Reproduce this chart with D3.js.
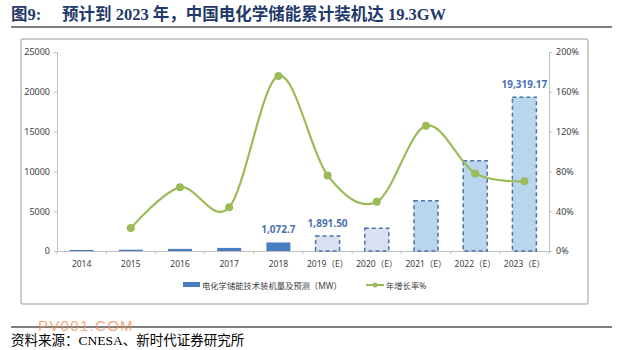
<!DOCTYPE html>
<html lang="zh">
<head>
  <meta charset="UTF-8">
  <title>预计到2023年，中国电化学储能累计装机达19.3GW</title>
  <script src="https://d3js.org/d3.v7.min.js"></script>
  <style>
    body { margin: 0; background: #fff; }
    text { font-family: "Noto Sans", "Noto Sans CJK SC", sans-serif; }
  </style>
</head>
<body>
  <div id="chart"></div>

  <script>
    // 数据
    const years = ["2014", "2015", "2016", "2017", "2018", "2019（E）", "2020（E）", "2021（E）", "2022（E）", "2023（E）"];
    const capacity = [130, 160, 265, 389, 1072.7, 1891.5, 2850, 6320, 11345, 19319.17];
    const growth = [null, 23, 64, 44, 176, 76, 49.5, 126, 78, 70];
    const leftTicks = [0, 5000, 10000, 15000, 20000, 25000];
    const rightTicks = [0, 40, 80, 120, 160, 200];
    const barLabels = { 4: "1,072.7", 5: "1,891.50", 9: "19,319.17" };

    const W = 621, H = 350;
    const svg = d3.select("#chart").append("svg")
      .attr("width", W).attr("height", H);

    // 标题
    const title = svg.append("text")
      .attr("x", 11).attr("y", 20)
      .attr("fill", "#1f3a6a")
      .attr("font-weight", "bold")
      .style("font-family", "'Liberation Serif', 'Noto Sans CJK SC', serif")
      .attr("font-size", 16.5);
    title.append("tspan").text("图9:");
    title.append("tspan").attr("x", 62).text("预计到 2023 年，中国电化学储能累计装机达 19.3GW");

    svg.append("line").attr("x1", 11).attr("x2", 612).attr("y1", 27).attr("y2", 27)
      .attr("stroke", "#000").attr("stroke-width", 1);

    // 图框
    svg.append("rect").attr("x", 21).attr("y", 39).attr("width", 567).attr("height", 265)
      .attr("fill", "#fff").attr("stroke", "#bdbdbd").attr("stroke-width", 1.5).attr("rx", 2);

    const x = d3.scaleBand().domain(years).range([57, 549]);
    const yL = d3.scaleLinear().domain([0, 25000]).range([251, 52]);
    const yR = d3.scaleLinear().domain([0, 200]).range([251, 52]);

    // 坐标轴
    const axisColor = "#bfbfbf";
    const gL = svg.append("g").attr("transform", "translate(57,0)")
      .call(d3.axisLeft(yL).tickValues(leftTicks).tickSize(3).tickPadding(4).tickFormat(d3.format("d")));
    const gR = svg.append("g").attr("transform", "translate(549,0)")
      .call(d3.axisRight(yR).tickValues(rightTicks).tickSize(3).tickPadding(4).tickFormat(d => d + "%"));
    const gX = svg.append("g").attr("transform", "translate(0,251)")
      .call(d3.axisBottom(x).tickSize(0).tickPadding(10));
    // x轴分隔刻度
    gX.selectAll(".sep").data(d3.range(years.length + 1)).enter().append("line")
      .attr("x1", i => 57 + i * x.step()).attr("x2", i => 57 + i * x.step())
      .attr("y1", 0).attr("y2", 3).attr("stroke", axisColor);

    [gL, gR, gX].forEach(g => {
      g.select(".domain").attr("stroke", axisColor);
      g.selectAll(".tick line").attr("stroke", axisColor);
      g.selectAll(".tick text").attr("fill", "#404040").attr("font-size", 9);
    });
    gX.selectAll(".tick text").attr("font-size", 8.5);

    // 柱子
    const bw = 24;
    svg.append("g").selectAll("rect").data(capacity).enter().append("rect")
      .attr("x", (d, i) => x(years[i]) + (x.bandwidth() - bw) / 2)
      .attr("y", d => yL(d))
      .attr("width", bw)
      .attr("height", d => yL(0) - yL(d))
      .attr("fill", (d, i) => i < 5 ? "#4a7dbf" : (i < 7 ? "#d8e0f1" : "#bad6ef"))
      .attr("stroke", (d, i) => i < 5 ? "none" : "#4d73a8")
      .attr("stroke-width", 1.5)
      .attr("stroke-dasharray", "4,3");

    // 数据标签
    svg.append("g").selectAll("text").data(Object.keys(barLabels)).enter().append("text")
      .attr("x", i => x(years[i]) + x.bandwidth() / 2)
      .attr("y", i => yL(capacity[i]) - 9)
      .attr("text-anchor", "middle")
      .attr("fill", "#4a72b0")
      .attr("font-weight", "bold")
      .attr("font-size", 10)
      .text(i => barLabels[i]);

    // 增长率折线
    const pts = growth.map((g, i) => ({ i, g })).filter(d => d.g !== null);
    const line = d3.line()
      .x(d => x(years[d.i]) + x.bandwidth() / 2)
      .y(d => yR(d.g))
      .curve(d3.curveCatmullRom.alpha(0));
    svg.append("path").attr("d", line(pts))
      .attr("fill", "none").attr("stroke", "#9bbb59").attr("stroke-width", 2.2);
    svg.append("g").selectAll("circle").data(pts).enter().append("circle")
      .attr("cx", d => x(years[d.i]) + x.bandwidth() / 2)
      .attr("cy", d => yR(d.g))
      .attr("r", 4)
      .attr("fill", "#9bbb59");

    // 图例
    const lg = svg.append("g").attr("font-size", 8.3).attr("fill", "#404040");
    lg.append("rect").attr("x", 183).attr("y", 282).attr("width", 17).attr("height", 5).attr("fill", "#4a7dbf");
    lg.append("text").attr("x", 202).attr("y", 288.5).attr("fill", "#404040").text("电化学储能技术装机量及预测（MW）");
    lg.append("line").attr("x1", 366).attr("x2", 384).attr("y1", 285).attr("y2", 285)
      .attr("stroke", "#9bbb59").attr("stroke-width", 2);
    lg.append("circle").attr("cx", 375).attr("cy", 285).attr("r", 2.5).attr("fill", "#9bbb59");
    lg.append("text").attr("x", 386).attr("y", 288.5).attr("fill", "#404040").text("年增长率%");

    // 底部
    svg.append("line").attr("x1", 11).attr("x2", 612).attr("y1", 327).attr("y2", 327)
      .attr("stroke", "#000").attr("stroke-width", 1);
    svg.append("text").attr("x", 38).attr("y", 331)
      .attr("fill", "#f08a4b").attr("fill-opacity", 0.75)
      .attr("font-size", 15).attr("letter-spacing", 1.3)
      .style("font-family", "'Liberation Sans', sans-serif")
      .text("PV001.COM");
    svg.append("text").attr("x", 11).attr("y", 345)
      .attr("fill", "#000").attr("font-size", 13.5)
      .style("font-family", "'Liberation Serif', 'Noto Sans CJK SC', serif")
      .text("资料来源：CNESA、新时代证券研究所");
  </script>
</body>
</html>
